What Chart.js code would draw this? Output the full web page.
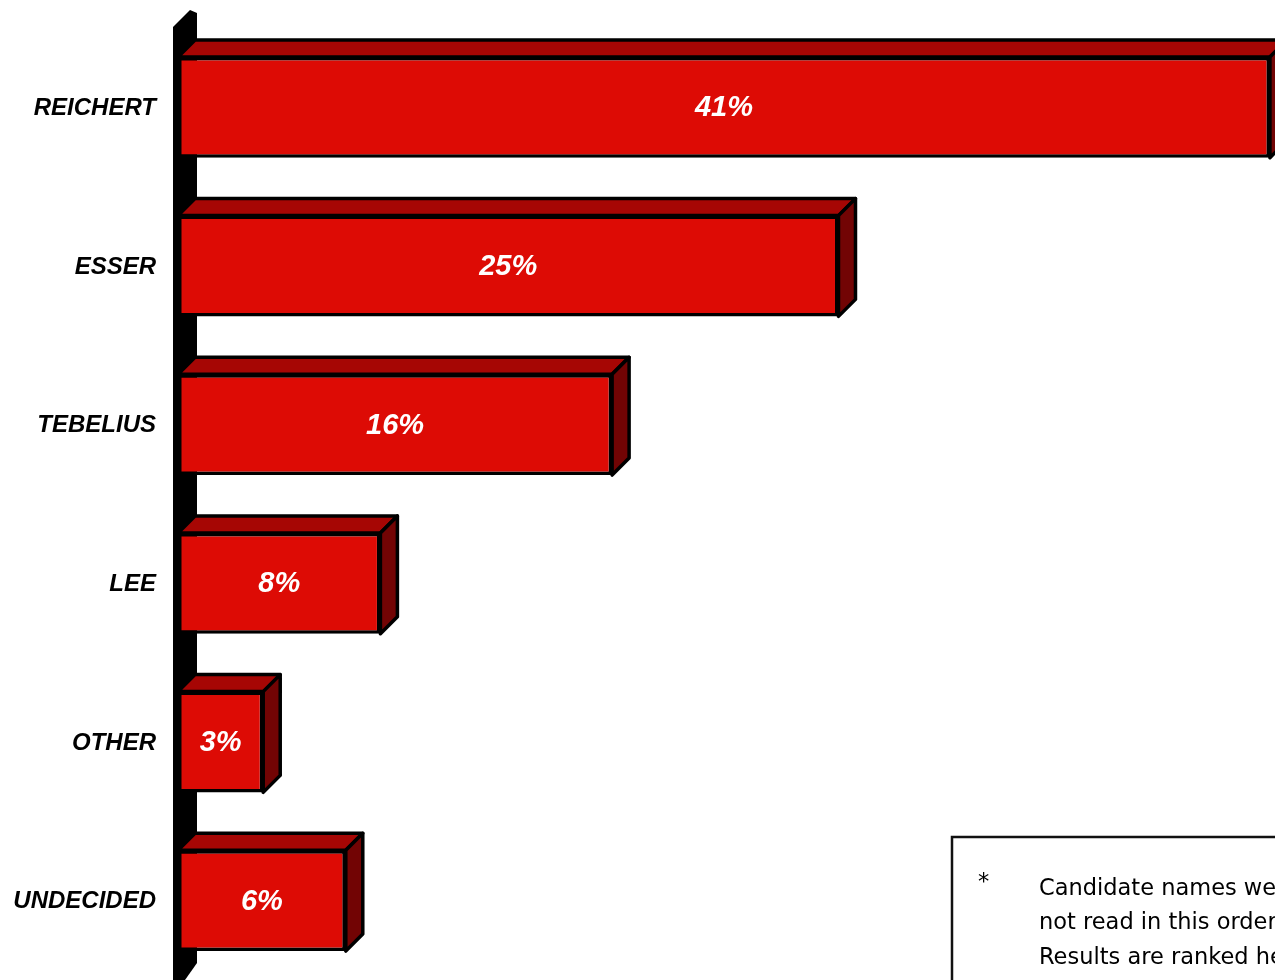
<!DOCTYPE html>
<html>
<head>
<meta charset="utf-8">
<script src="https://cdn.jsdelivr.net/npm/chart.js@4.4.0/dist/chart.umd.min.js"></script>
<style>
  html, body { margin: 0; padding: 0; background: #fff; overflow: hidden; }
  canvas { display: block; }
</style>
</head>
<body>
<canvas id="pollChart" width="1275" height="980"></canvas>
<script>
// data
const candidates = ["REICHERT", "ESSER", "TEBELIUS", "LEE", "OTHER", "UNDECIDED"];
const support = [41, 24.8, 16.3, 7.6, 3.2, 6.3];
const valueLabels = ["41%", "25%", "16%", "8%", "3%", "6%"];
const noteLines = ["Candidate names were", "not read in this order.", "Results are ranked here"];

const DEPTH = 17;
const FRONT = "#dd0b05";
const TOP = "#a60604";
const SIDE = "#720404";

function poly(ctx, pts, fill) {
  ctx.beginPath();
  ctx.moveTo(pts[0][0], pts[0][1]);
  for (let i = 1; i < pts.length; i++) ctx.lineTo(pts[i][0], pts[i][1]);
  ctx.closePath();
  ctx.fillStyle = fill;
  ctx.fill();
  ctx.stroke();
}

// 3D wall, bar faces, category + value labels and the note box
const bars3d = {
  id: "bars3d",
  beforeDatasetsDraw(chart) {
    const ctx = chart.ctx, a = chart.chartArea;
    const x0 = chart.scales.x.getPixelForValue(0);
    ctx.save();
    ctx.fillStyle = "#000";
    ctx.beginPath();
    ctx.moveTo(x0 - 5, a.top - 1);
    ctx.lineTo(x0 + 12, a.top - 18);
    ctx.lineTo(x0 + 19, a.top - 15);
    ctx.lineTo(x0 + 19, a.bottom - 17);
    ctx.lineTo(x0 + 7, a.bottom);
    ctx.lineTo(x0 - 5, a.bottom);
    ctx.closePath();
    ctx.fill();

    // category names, right aligned left of the wall
    const ys = chart.scales.y;
    ctx.fillStyle = "#000";
    ctx.font = "italic bold 24px 'Liberation Sans'";
    ctx.textAlign = "right";
    ctx.textBaseline = "middle";
    candidates.forEach((name, i) => ctx.fillText(name, x0 - 22, ys.getPixelForValue(i) + 1));
    ctx.restore();
  },
  afterDatasetsDraw(chart) {
    const ctx = chart.ctx;
    const meta = chart.getDatasetMeta(0);
    ctx.save();
    ctx.strokeStyle = "#000";
    ctx.lineWidth = 3.5;
    ctx.lineJoin = "round";
    meta.data.forEach((bar, i) => {
      const { x, y, base, height } = bar.getProps(["x", "y", "base", "height"], true);
      const t = y - height / 2, b = y + height / 2;
      poly(ctx, [[base, t], [base + DEPTH, t - DEPTH], [x + DEPTH, t - DEPTH], [x, t]], TOP);
      poly(ctx, [[x, t], [x + DEPTH, t - DEPTH], [x + DEPTH, b - DEPTH], [x, b]], SIDE);

      ctx.fillStyle = "#fff";
      ctx.font = "italic bold 29px 'Liberation Sans'";
      ctx.textAlign = "center";
      ctx.textBaseline = "middle";
      ctx.fillText(valueLabels[i], (base + x) / 2, y + 1);
    });
    ctx.restore();
  },
  afterDraw(chart) {
    const ctx = chart.ctx;
    ctx.save();
    ctx.strokeStyle = "#111";
    ctx.lineWidth = 2.5;
    ctx.beginPath();
    ctx.moveTo(952, 982);
    ctx.lineTo(952, 837);
    ctx.lineTo(1280, 837);
    ctx.stroke();

    ctx.fillStyle = "#000";
    ctx.font = "22.5px 'DejaVu Sans'";
    ctx.textAlign = "left";
    ctx.textBaseline = "middle";
    ctx.fillText("*", 978, 883);
    noteLines.forEach((line, i) => ctx.fillText(line, 1039, 889 + i * 34.5));
    ctx.restore();
  }
};

new Chart(document.getElementById("pollChart"), {
  type: "bar",
  data: {
    labels: candidates,
    datasets: [{
      data: support,
      backgroundColor: FRONT,
      borderColor: "#000",
      borderWidth: 3.5,
      borderSkipped: false,
      barPercentage: 0.635,
      categoryPercentage: 1
    }]
  },
  options: {
    indexAxis: "y",
    responsive: false,
    animation: false,
    layout: { padding: { top: 28, left: 178, right: 0, bottom: 0 } },
    plugins: {
      legend: { display: false },
      tooltip: { enabled: false }
    },
    scales: {
      x: { display: false, min: 0, max: 41.19 },
      y: { display: false }
    }
  },
  plugins: [bars3d]
});
</script>
</body>
</html>
